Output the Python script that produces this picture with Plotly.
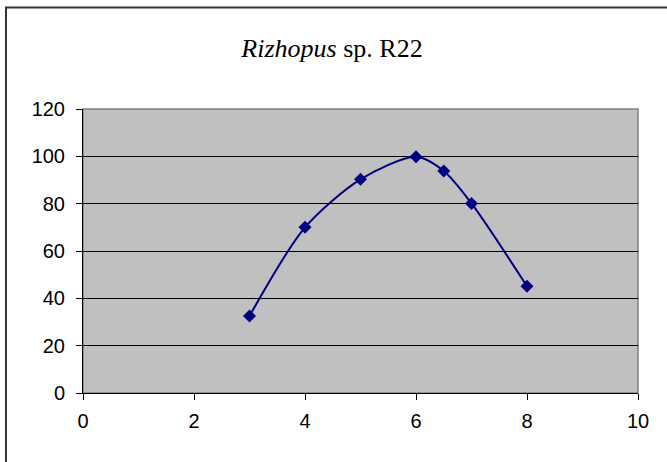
import plotly.graph_objects as go

ph_values = [3, 4, 5, 6, 6.5, 7, 8]
activity = [32.5, 70, 90.3, 99.8, 93.8, 80.1, 45.1]
x_ticks = [0, 2, 4, 6, 8, 10]
y_ticks = [0, 20, 40, 60, 80, 100, 120]
title_html = "<i>Rizhopus</i> sp. R22"

W, H = 667, 462
L, R, T, B = 83, 29, 109, 69
pw, ph = W - L - R, H - T - B

fig = go.Figure()
fig.add_trace(go.Scatter(
    x=ph_values, y=activity, mode="lines+markers",
    line=dict(color="#000080", width=2, shape="spline", smoothing=0.8),
    marker=dict(symbol="diamond", size=10, color="#000080"),
    showlegend=False, cliponaxis=False,
))

fig.update_layout(
    width=W, height=H,
    margin=dict(l=L, r=R, t=T, b=B),
    paper_bgcolor="white", plot_bgcolor="#C0C0C0",
    title=dict(text=title_html, x=(332 - L) / pw, xref="paper", xanchor="center",
               y=1 - 48 / H, yanchor="middle",
               font=dict(family="Liberation Serif, Times New Roman, serif", size=26, color="black")),
    font=dict(family="Liberation Sans, Arial, sans-serif", size=20, color="black"),
)
fig.update_xaxes(
    range=[0, 10], tickvals=x_ticks, ticks="outside", ticklen=6, tickcolor="black",
    showgrid=False, zeroline=False, showline=True, linecolor="black", linewidth=1,
    tickfont=dict(size=20), ticklabelstandoff=4,
)
fig.update_yaxes(
    range=[0, 120], tickvals=y_ticks, ticks="outside", ticklen=6, tickcolor="black",
    showgrid=True, gridcolor="black", gridwidth=1, zeroline=False,
    showline=True, linecolor="black", linewidth=1,
    tickfont=dict(size=20), ticklabelstandoff=7,
)
# plot area border (top/right gray)
fig.add_shape(type="rect", xref="paper", yref="paper", x0=0, x1=1, y0=0, y1=1,
              line=dict(color="#808080", width=1.5), layer="below")
# outer chart border (only left/top visible in frame)
fig.add_shape(type="rect", xref="paper", yref="paper",
              x0=(6 - L) / pw, x1=(W + 10 - L) / pw,
              y0=-(H + 10 - (T + ph)) / ph, y1=(T + ph - 7.5) / ph,
              line=dict(color="#333333", width=2), layer="below")

fig.write_html("out.html", config={"displayModeBar": False},
               post_script="document.body.style.margin='0';document.body.style.overflow='hidden';")
